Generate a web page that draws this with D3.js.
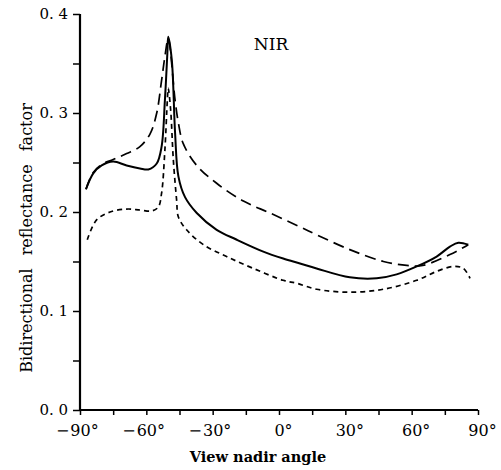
<!DOCTYPE html>
<html>
<head>
<meta charset="utf-8">
<script src="https://cdn.jsdelivr.net/npm/d3@7"></script>
<style>
  body { margin: 0; background: #fff; }
  svg text { font-family: "DejaVu Serif", "Liberation Serif", serif; fill: #000; }
</style>
</head>
<body>
<div id="chart"></div>
<script>
// view nadir angle (deg) and reflectance
const solidAngle = [-87.3, -84, -80.2, -75, -68.9, -62.9, -59.1, -55.3, -53.1, -51.6, -50.5, -50.1, -48.5, -47, -45.5, -42.5, -37.2, -28.2, -19.1, -7.1, 1.9, 9.5, 17, 32, 44.2, 53.2, 62.3, 71.3, 77.3, 81.1, 85.6];
const solidValue = [0.223, 0.239, 0.247, 0.251, 0.247, 0.244, 0.243, 0.249, 0.266, 0.313, 0.360, 0.377, 0.354, 0.280, 0.236, 0.215, 0.199, 0.182, 0.172, 0.160, 0.153, 0.148, 0.143, 0.134, 0.133, 0.137, 0.145, 0.155, 0.165, 0.169, 0.167];

const longAngle = [-87.3, -84, -80.2, -75, -68.9, -62.9, -58.3, -55.3, -53.1, -51.6, -50.1, -47, -45.5, -43.3, -37.2, -28.2, -16.1, -4.1, 9.5, 17, 32, 47.2, 57.8, 65, 77.3, 85.6];
const longValue = [0.223, 0.240, 0.248, 0.253, 0.259, 0.266, 0.279, 0.300, 0.333, 0.357, 0.375, 0.313, 0.290, 0.269, 0.247, 0.229, 0.211, 0.199, 0.185, 0.177, 0.162, 0.150, 0.146, 0.146, 0.157, 0.167];

const shortAngle = [-86.7, -82.5, -76.4, -68.9, -62.9, -57.6, -54.6, -53.1, -51.6, -50.5, -50.1, -49, -47.8, -46.3, -45.5, -41.8, -34.2, -23.7, -11.6, 1.9, 8, 17, 32, 47.2, 62.3, 71.3, 78.8, 83.4, 86.4];
const shortValue = [0.172, 0.192, 0.200, 0.203, 0.202, 0.201, 0.205, 0.219, 0.263, 0.313, 0.325, 0.303, 0.253, 0.212, 0.195, 0.182, 0.167, 0.155, 0.143, 0.131, 0.128, 0.122, 0.119, 0.122, 0.131, 0.140, 0.145, 0.143, 0.133];

const xTicks = [-90, -75, -60, -45, -30, -15, 0, 15, 30, 45, 60, 75, 90];
const yTicks = [0, 0.05, 0.1, 0.15, 0.2, 0.25, 0.3, 0.35, 0.4];

const width = 501, height = 470;

const svg = d3.select("#chart").append("svg")
  .attr("width", width)
  .attr("height", height);

const x = d3.scaleLinear().domain([-90, 90]).range([80, 478]);
const y = d3.scaleLinear().domain([0, 0.4]).range([410, 14]);

// axes
const xAxis = svg.append("g")
  .attr("transform", `translate(0,${y(0)})`)
  .call(d3.axisBottom(x).tickValues(xTicks).tickSize(5).tickPadding(10)
    .tickFormat(d => d % 30 === 0 ? Math.abs(d) : ""));

const yAxis = svg.append("g")
  .attr("transform", `translate(${x(-90)},0)`)
  .call(d3.axisLeft(y).tickValues(yTicks).tickSize(7).tickPadding(5)
    .tickFormat(d => (Math.round(d * 100) % 10 === 0) ? d.toFixed(1).replace(".", ". ") : ""));

[xAxis, yAxis].forEach(a => {
  a.attr("font-family", null);
  a.select(".domain").attr("stroke", "#000").attr("stroke-width", 2.2);
  a.selectAll(".tick line").attr("stroke", "#000").attr("stroke-width", 1.5);
});
xAxis.selectAll(".tick text").attr("font-size", 16);
yAxis.selectAll(".tick text").attr("font-size", 15);
xAxis.selectAll(".domain").attr("d", `M${x(-90)},0H${x(90)}`);
yAxis.selectAll(".domain").attr("d", `M0,${y(0.4)}V${y(0)}`);

// keep the digits centred on the tick, minus sign in front and degree sign after
xAxis.selectAll(".tick").each(function(d) {
  if (d % 30 !== 0) return;
  const t = d3.select(this).select("text");
  const half = t.node().getComputedTextLength() / 2;
  const ty = t.attr("y"), tdy = t.attr("dy");
  d3.select(this).append("text")
    .attr("x", half).attr("y", ty).attr("dy", tdy)
    .attr("font-size", 16).attr("text-anchor", "start")
    .text("\u00b0");
  if (d < 0) {
    d3.select(this).append("text")
      .attr("x", -half - 1).attr("y", ty).attr("dy", tdy)
      .attr("font-size", 16).attr("text-anchor", "end")
      .text("\u2212");
  }
});

// titles
svg.append("text")
  .attr("x", 258).attr("y", 462)
  .attr("text-anchor", "middle")
  .attr("font-size", 14.5).attr("font-weight", "bold")
  .text("View nadir angle");

svg.append("text")
  .attr("transform", `translate(32,238) rotate(-90)`)
  .attr("text-anchor", "middle")
  .attr("font-size", 16)
  .attr("word-spacing", 8)
  .text("Bidirectional reflectance factor");

svg.append("text")
  .attr("x", 271).attr("y", 50)
  .attr("text-anchor", "middle")
  .attr("font-size", 17)
  .text("NIR");

// curves
const line = d3.line()
  .x(d => x(d[0]))
  .y(d => y(d[1]))
  .curve(d3.curveCatmullRom.alpha(0.5));

const series = [
  { angle: longAngle, value: longValue, dash: "11,6", width: 1.7 },
  { angle: shortAngle, value: shortValue, dash: "5,4", width: 1.7 },
  { angle: solidAngle, value: solidValue, dash: null, width: 2 }
];

series.forEach(s => {
  svg.append("path")
    .datum(d3.zip(s.angle, s.value))
    .attr("fill", "none")
    .attr("stroke", "#000")
    .attr("stroke-width", s.width)
    .attr("stroke-dasharray", s.dash)
    .attr("d", line);
});
</script>
</body>
</html>
